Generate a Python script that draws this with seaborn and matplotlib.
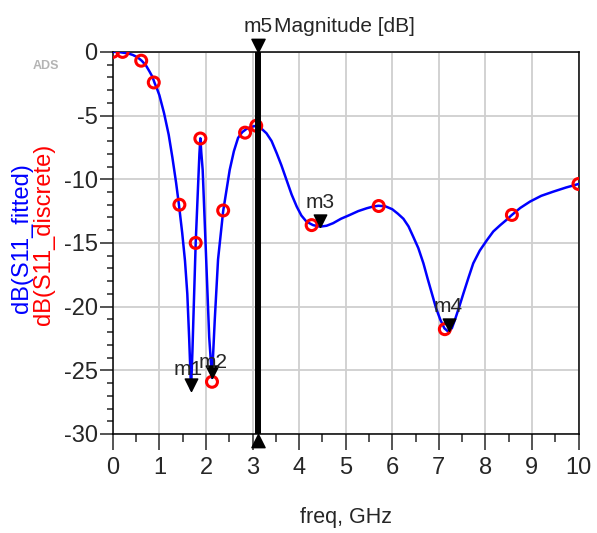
import matplotlib
matplotlib.use("Agg")
from matplotlib import pyplot as plt
from matplotlib.ticker import MultipleLocator
import pandas as pd
import seaborn as sns

# fitted curve
fit_freq = [0, 0.11, 0.22, 0.33, 0.43, 0.53, 0.62, 0.71, 0.79, 0.85, 0.90, 0.95,
            1.00, 1.10, 1.20, 1.28, 1.36, 1.42, 1.49, 1.55, 1.60, 1.64, 1.68, 1.71,
            1.73, 1.78, 1.83, 1.86, 1.88, 1.90, 1.93, 2.00, 2.07, 2.13, 2.19, 2.26,
            2.37, 2.51, 2.60, 2.69, 2.78, 2.87, 2.96, 3.05, 3.17, 3.30, 3.41, 3.52,
            3.62, 3.73, 3.84, 3.95, 4.05, 4.16, 4.30, 4.45, 4.59, 4.73, 4.90, 5.09,
            5.27, 5.45, 5.58, 5.70, 5.85, 6.00, 6.12, 6.24, 6.35, 6.45, 6.56, 6.67,
            6.76, 6.85, 6.94, 7.03, 7.12, 7.20, 7.28, 7.35, 7.44, 7.53, 7.64, 7.74,
            7.88, 8.03, 8.17, 8.32, 8.45, 8.57, 8.75, 8.96, 9.20, 9.46, 9.73, 10.0]
fit_db = [0, 0, -0.06, -0.12, -0.24, -0.42, -0.69, -1.05, -1.55, -1.95, -2.46, -2.9,
          -3.4, -4.8, -6.5, -8.3, -10.3, -12.0, -14.2, -16.4, -19.0, -22.5, -26.5, -23.5,
          -21.0, -15.0, -10.6, -8.0, -6.78, -7.9, -9.27, -15.8, -22.4, -25.6, -21.0, -16.3,
          -12.5, -9.27, -7.8, -6.75, -6.3, -6.05, -5.9, -5.82, -5.95, -6.39, -7.0, -7.96,
          -8.9, -10.05, -11.2, -12.15, -12.85, -13.33, -13.6, -13.72, -13.65, -13.45, -13.1, -12.8,
          -12.5, -12.28, -12.15, -12.08, -12.12, -12.35, -12.7, -13.1, -13.7, -14.5, -15.4, -16.6,
          -17.8, -18.95, -20.1, -21.0, -21.7, -21.95, -21.7, -21.0, -20.0, -18.95, -17.7, -16.6,
          -15.6, -14.8, -14.1, -13.6, -13.2, -12.8, -12.25, -11.75, -11.3, -10.97, -10.65, -10.37]

# discrete samples
disc_freq = [0, 0.21, 0.61, 0.88, 1.43, 1.78, 1.88, 2.13, 2.37, 2.84, 3.08,
             4.27, 5.71, 7.13, 8.57, 10.0]
disc_db = [0, 0, -0.69, -2.4, -12.0, -15.0, -6.8, -25.9, -12.45, -6.34, -5.8,
           -13.6, -12.1, -21.77, -12.8, -10.37]

# markers
mk_names = ["m1", "m2", "m3", "m4"]
mk_freq = [1.67, 2.13, 4.45, 7.21]
mk_db = [-26.6, -25.6, -13.77, -21.95]
m5_freq = 3.11

xticks = list(range(0, 11))
yticks = [0, -5, -10, -15, -20, -25, -30]

sns.set_style("white")
plt.rcParams["font.family"] = ["Liberation Sans", "DejaVu Sans"]

fig = plt.figure(figsize=(5.97, 5.33), dpi=100)
ax = fig.add_axes([112.8 / 597, 1 - 434 / 533, (578.5 - 112.8) / 597, (434 - 51.9) / 533])

df_fit = pd.DataFrame({"freq": fit_freq, "db": fit_db})
df_disc = pd.DataFrame({"freq": disc_freq, "db": disc_db})

sns.lineplot(data=df_fit, x="freq", y="db", color="#0000ff", lw=1.8, ax=ax, zorder=3)
sns.scatterplot(data=df_disc, x="freq", y="db", ax=ax, marker="o", s=62,
                facecolor="none", edgecolor="#ff0000", linewidth=2.2, zorder=4)

ax.set_xlim(0, 10)
ax.set_ylim(-30, 0)
ax.set_xticks(xticks)
ax.set_yticks(yticks)
ax.xaxis.set_minor_locator(MultipleLocator(0.5))
ax.yaxis.set_minor_locator(MultipleLocator(1))
ax.grid(True, which="major", color="#cfcfcf", lw=1.3)
ax.set_axisbelow(True)
for sp in ax.spines.values():
    sp.set_color("black")
    sp.set_linewidth(1.1)
    sp.set_visible(True)

ax.tick_params(axis="x", which="major", direction="out", length=11.5, width=1.1, pad=5,
               bottom=True, labelsize=17)
ax.tick_params(axis="x", which="minor", direction="out", length=6, width=1.1, bottom=True)
ax.tick_params(axis="y", which="major", direction="out", length=9.4, width=1.1, pad=1.5,
               left=True, labelsize=17)
ax.tick_params(axis="y", which="minor", direction="out", length=4.5, width=1.1, left=True)
ax.set_yticklabels([str(v) for v in yticks])
ax.set_xlabel("")
ax.set_ylabel("")

# markers (triangle tip on the point)
tri_down = [(0, 0), (-0.5, 1), (0.5, 1), (0, 0)]
tri_up = [(0, 0), (-0.5, -1), (0.5, -1), (0, 0)]
label_off = {"m1": (-2, 11), "m2": (1, 7), "m3": (0, 14), "m4": (0, 14)}
for name, fx, fy in zip(mk_names, mk_freq, mk_db):
    ax.plot([fx], [fy], marker=tri_down, ms=18, color="black", zorder=6, clip_on=False)
    ax.annotate(name, (fx, fy), xytext=label_off[name], textcoords="offset points",
                ha="center", va="baseline", fontsize=15, zorder=7)

ax.plot([m5_freq, m5_freq], [0, -30], color="black", lw=4.3, zorder=8,
        solid_capstyle="butt", clip_on=False)
ax.plot([m5_freq], [0], marker=tri_down, ms=19, color="black", zorder=8, clip_on=False)
ax.plot([m5_freq], [-30], marker=tri_up, ms=19, color="black", zorder=8, clip_on=False)
ax.annotate("m5", (m5_freq, 0), xytext=(0, 14), textcoords="offset points",
            ha="center", va="baseline", fontsize=15, annotation_clip=False)

fig.text(274 / 597, 1 - 32 / 533, "Magnitude [dB]", ha="left", va="baseline", fontsize=15)
fig.text(346 / 597, 1 - 517 / 533, "freq, GHz", ha="center", va="center", fontsize=15.5)
fig.text(22 / 597, 1 - 238 / 533, "dB(S11_fitted)", rotation=90, ha="center",
         va="center", fontsize=17, color="#0000ff")
fig.text(44 / 597, 1 - 234 / 533, "dB(S11_discrete)", rotation=90, ha="center",
         va="center", fontsize=17, color="#ff0000")
fig.text(46 / 597, 1 - 66 / 533, "ADS", ha="center", va="center", fontsize=9,
         fontweight="bold", color="#b4b4b4")

fig.savefig("out.png", dpi=100)
